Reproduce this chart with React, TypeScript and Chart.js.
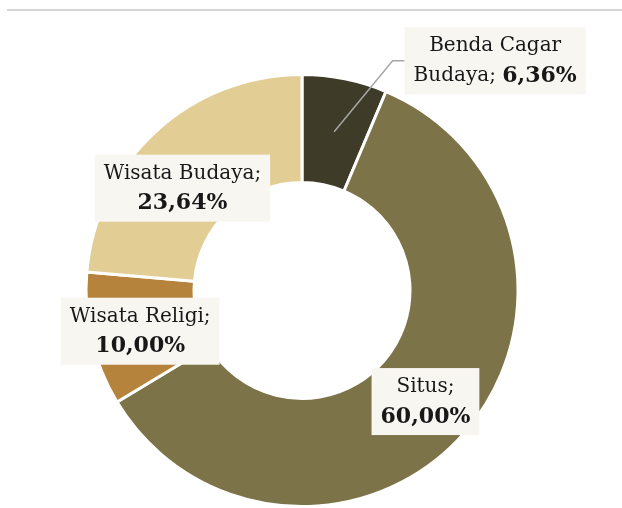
import React, { useEffect, useRef } from "react";
import { Chart, registerables } from "chart.js";

Chart.register(...registerables);

const categories = ["Benda Cagar Budaya", "Situs", "Wisata Religi", "Wisata Budaya"];
const values = [6.36, 60.0, 10.0, 23.64];
const colors = ["#3e3c29", "#7d7349", "#b6833c", "#e2cd94"];
// first-line text of each label; the rest of the name goes on line 2 with the percentage
const firstLines = ["Benda Cagar", "Situs;", "Wisata Religi;", "Wisata Budaya;"];
const secondLinePrefix = ["Budaya; ", "", "", ""];
// label offset from segment centroid (px)
const labelOffsets = [
  [161, -71],
  [1, 5],
  [-4, 4],
  [-10, 17],
];
const leaderLine = [true, false, false, false];

const FONT = "'DejaVu Serif', 'Liberation Serif', serif";
const FS = 20;
const FSB = 22;

const fmt = (v: number) => v.toFixed(2).replace(".", ",") + "%";

const labelPlugin = {
  id: "boxLabels",
  afterDatasetsDraw(chart: any) {
    const ctx = chart.ctx as CanvasRenderingContext2D;
    const meta = chart.getDatasetMeta(0);
    meta.data.forEach((arc: any, i: number) => {
      const p = arc.getProps(["x", "y", "startAngle", "endAngle", "innerRadius", "outerRadius"], true);
      const mid = (p.startAngle + p.endAngle) / 2;
      const r = (p.innerRadius + p.outerRadius) / 2;
      const cx = p.x + Math.cos(mid) * r;
      const cy = p.y + Math.sin(mid) * r;
      const lx = cx + labelOffsets[i][0];
      const ly = cy + labelOffsets[i][1];

      const normal = `${FS}px ${FONT}`;
      const bold = `bold ${FSB}px ${FONT}`;
      ctx.save();
      ctx.font = normal;
      const w1 = ctx.measureText(firstLines[i]).width;
      const pre = secondLinePrefix[i];
      const wPre = pre ? ctx.measureText(pre).width : 0;
      ctx.font = bold;
      const pct = fmt(values[i]);
      const wPct = ctx.measureText(pct).width;
      const w2 = wPre + wPct;
      const bw = Math.max(w1, w2) + 18;
      const bh = 67;
      const bx = lx - bw / 2;
      const by = ly - bh / 2;

      if (leaderLine[i]) {
        ctx.strokeStyle = "#a6a6a6";
        ctx.lineWidth = 1.5;
        ctx.beginPath();
        ctx.moveTo(cx, cy);
        ctx.lineTo(bx - 12, ly);
        ctx.lineTo(bx, ly);
        ctx.stroke();
      }

      ctx.fillStyle = "#f8f6f1";
      ctx.fillRect(bx, by, bw, bh);

      ctx.fillStyle = "#181818";
      ctx.textBaseline = "middle";
      ctx.textAlign = "left";
      ctx.font = normal;
      ctx.fillText(firstLines[i], lx - w1 / 2, by + 19);
      const sx = lx - w2 / 2;
      if (pre) ctx.fillText(pre, sx, by + 49);
      ctx.font = bold;
      ctx.fillText(pct, sx + wPre, by + 49);
      ctx.restore();
    });
  },
};

export default function App() {
  const ref = useRef<HTMLCanvasElement | null>(null);
  useEffect(() => {
    if (!ref.current) return;
    const chart = new Chart(ref.current, {
      type: "doughnut",
      data: {
        labels: categories,
        datasets: [
          {
            data: values,
            backgroundColor: colors,
            borderColor: "#ffffff",
            borderWidth: 3,
          },
        ],
      },
      options: {
        responsive: false,
        animation: false,
        cutout: "50%",
        layout: { padding: { left: 83, right: 101, top: 73, bottom: 0 } },
        plugins: { legend: { display: false }, tooltip: { enabled: false } },
      },
      plugins: [labelPlugin],
    });
    return () => chart.destroy();
  }, []);
  return (
    <div style={{ position: "fixed", left: 0, top: 0, width: 622, height: 508, background: "#fff", overflow: "hidden" }}>
      <div style={{ position: "absolute", left: 7, right: 0, top: 9, height: 2, background: "#d6d6d6" }} />
      <canvas ref={ref} width={622} height={508} style={{ position: "absolute", left: 0, top: 0 }} />
    </div>
  );
}
